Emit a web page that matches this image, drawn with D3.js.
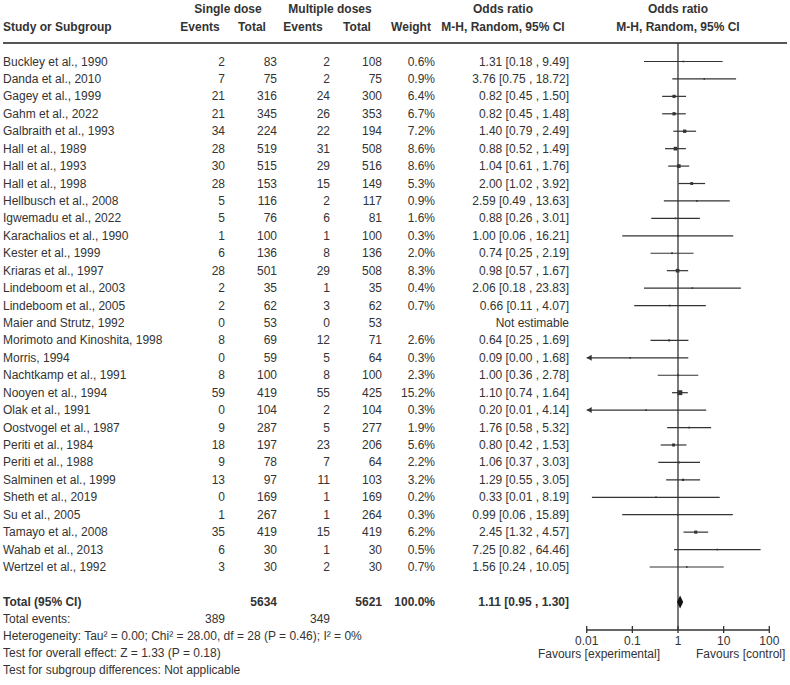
<!DOCTYPE html>
<html><head><meta charset="utf-8">
<script src="https://cdn.jsdelivr.net/npm/d3@7"></script>
<style>body{margin:0;background:#fff}svg{display:block}text{font-family:Arial,"Liberation Sans",sans-serif;font-size:12px;fill:#333}</style>
</head><body><div id="chart"></div>
<script>
const studies = ["Buckley et al., 1990","Danda et al., 2010","Gagey et al., 1999","Gahm et al., 2022","Galbraith et al., 1993","Hall et al., 1989","Hall et al., 1993","Hall et al., 1998","Hellbusch et al., 2008","Igwemadu et al., 2022","Karachalios et al., 1990","Kester et al., 1999","Kriaras et al., 1997","Lindeboom et al., 2003","Lindeboom et al., 2005","Maier and Strutz, 1992","Morimoto and Kinoshita, 1998","Morris, 1994","Nachtkamp et al., 1991","Nooyen et al., 1994","Olak et al., 1991","Oostvogel et al., 1987","Periti et al., 1984","Periti et al., 1988","Salminen et al., 1999","Sheth et al., 2019","Su et al., 2005","Tamayo et al., 2008","Wahab et al., 2013","Wertzel et al., 1992"];
const singleEvents = [2,7,21,21,34,28,30,28,5,5,1,6,28,2,2,0,8,0,8,59,0,9,18,9,13,0,1,35,6,3];
const singleTotal = [83,75,316,345,224,519,515,153,116,76,100,136,501,35,62,53,69,59,100,419,104,287,197,78,97,169,267,419,30,30];
const multiEvents = [2,2,24,26,22,31,29,15,2,6,1,8,29,1,3,0,12,5,8,55,2,5,23,7,11,1,1,15,1,2];
const multiTotal = [108,75,300,353,194,508,516,149,117,81,100,136,508,35,62,53,71,64,100,425,104,277,206,64,103,169,264,419,30,30];
const weights = [0.6,0.9,6.4,6.7,7.2,8.6,8.6,5.3,0.9,1.6,0.3,2.0,8.3,0.4,0.7,null,2.6,0.3,2.3,15.2,0.3,1.9,5.6,2.2,3.2,0.2,0.3,6.2,0.5,0.7];
const orVal = [1.31,3.76,0.82,0.82,1.40,0.88,1.04,2.00,2.59,0.88,1.00,0.74,0.98,2.06,0.66,null,0.64,0.09,1.00,1.10,0.20,1.76,0.80,1.06,1.29,0.33,0.99,2.45,7.25,1.56];
const ciLow = [0.18,0.75,0.45,0.45,0.79,0.52,0.61,1.02,0.49,0.26,0.06,0.25,0.57,0.18,0.11,null,0.25,0.004,0.36,0.74,0.0096,0.58,0.42,0.37,0.55,0.013,0.06,1.32,0.82,0.24];
const ciHigh = [9.49,18.72,1.50,1.48,2.49,1.49,1.76,3.92,13.63,3.01,16.21,2.19,1.67,23.83,4.07,null,1.69,1.68,2.78,1.64,4.14,5.32,1.53,3.03,3.05,8.19,15.89,4.57,64.46,10.05];
const totalRow = {singleTotal:5634, multiTotal:5621, weight:"100.0%", or:1.11, lo:0.95, hi:1.30, singleEvents:389, multiEvents:349};
const footLines = ["Heterogeneity: Tau² = 0.00; Chi² = 28.00, df = 28 (P = 0.46); I² = 0%","Test for overall effect: Z = 1.33 (P = 0.18)","Test for subgroup differences: Not applicable"];
const axisTicks = [0.01,0.1,1,10,100];
const axisTickLabels = ["0.01","0.1","1","10","100"];

const W=790,H=685;
const svg=d3.select("#chart").append("svg").attr("width",W).attr("height",H);
const x=d3.scaleLog().domain([0.01,100]).range([586.7,769.3]);
const y=d3.scaleLinear().domain([0,29]).range([61.5,567]);
const col="#333";
const bold=s=>s.style("font-weight","bold");

// headers
const hdr=svg.append("g");
bold(hdr.append("text").attr("x",228).attr("y",13).attr("text-anchor","middle").text("Single dose"));
bold(hdr.append("text").attr("x",330).attr("y",13).attr("text-anchor","middle").text("Multiple doses"));
bold(hdr.append("text").attr("x",503).attr("y",13).attr("text-anchor","middle").text("Odds ratio"));
bold(hdr.append("text").attr("x",678).attr("y",13).attr("text-anchor","middle").text("Odds ratio"));
bold(hdr.append("text").attr("x",3).attr("y",31).text("Study or Subgroup"));
bold(hdr.append("text").attr("x",200).attr("y",31).attr("text-anchor","middle").text("Events"));
bold(hdr.append("text").attr("x",252).attr("y",31).attr("text-anchor","middle").text("Total"));
bold(hdr.append("text").attr("x",303).attr("y",31).attr("text-anchor","middle").text("Events"));
bold(hdr.append("text").attr("x",357).attr("y",31).attr("text-anchor","middle").text("Total"));
bold(hdr.append("text").attr("x",411).attr("y",31).attr("text-anchor","middle").text("Weight"));
bold(hdr.append("text").attr("x",503).attr("y",31).attr("text-anchor","middle").text("M-H, Random, 95% CI"));
bold(hdr.append("text").attr("x",678).attr("y",31).attr("text-anchor","middle").text("M-H, Random, 95% CI"));
svg.append("line").attr("x1",3).attr("x2",787).attr("y1",43).attr("y2",43).attr("stroke","#555").attr("stroke-width",2);

const fmt=d3.format(".2f");
const rows=svg.append("g").selectAll("g").data(studies).join("g").attr("transform",(d,i)=>`translate(0,${y(i)+4})`);
rows.append("text").attr("x",3).text(d=>d);
rows.append("text").attr("x",225).attr("text-anchor","end").text((d,i)=>singleEvents[i]);
rows.append("text").attr("x",277).attr("text-anchor","end").text((d,i)=>singleTotal[i]);
rows.append("text").attr("x",330).attr("text-anchor","end").text((d,i)=>multiEvents[i]);
rows.append("text").attr("x",382).attr("text-anchor","end").text((d,i)=>multiTotal[i]);
rows.append("text").attr("x",435).attr("text-anchor","end").text((d,i)=>weights[i]==null?"":weights[i].toFixed(1)+"%");
rows.append("text").attr("x",569).attr("text-anchor","end").text((d,i)=>orVal[i]==null?"Not estimable":`${fmt(orVal[i])} [${fmt(ciLow[i])} , ${fmt(ciHigh[i])}]`);

// forest marks
const plot=svg.append("g");
plot.append("line").attr("x1",x(1)).attr("x2",x(1)).attr("y1",43).attr("y2",630).attr("stroke",col).attr("stroke-width",1.3);
studies.forEach((s,i)=>{
  if(orVal[i]==null) return;
  const yy=y(i);
  const lo=Math.max(ciLow[i],0.01);
  plot.append("line").attr("x1",x(lo)).attr("x2",x(Math.min(ciHigh[i],100))).attr("y1",yy).attr("y2",yy).attr("stroke",col).attr("stroke-width",1.2);
  if(ciLow[i]<0.01){
    plot.append("path").attr("d",`M${x(0.01)},${yy} l5,-3 l0,6 z`).attr("fill",col);
  }
  const sz=Math.max(1.6,Math.sqrt(weights[i])*1.25);
  plot.append("rect").attr("x",x(orVal[i])-sz/2).attr("y",yy-sz/2).attr("width",sz).attr("height",sz).attr("fill",col);
});

// total row
const ty=602;
const tg=svg.append("g").attr("transform",`translate(0,${ty+4})`);
bold(tg.append("text").attr("x",3).text("Total (95% CI)"));
bold(tg.append("text").attr("x",277).attr("text-anchor","end").text(totalRow.singleTotal));
bold(tg.append("text").attr("x",382).attr("text-anchor","end").text(totalRow.multiTotal));
bold(tg.append("text").attr("x",435).attr("text-anchor","end").text(totalRow.weight));
bold(tg.append("text").attr("x",569).attr("text-anchor","end").text(`${fmt(totalRow.or)} [${fmt(totalRow.lo)} , ${fmt(totalRow.hi)}]`));
plot.append("path").attr("d",`M${x(totalRow.lo)},${ty} L${x(totalRow.or)},${ty-6.5} L${x(totalRow.hi)},${ty} L${x(totalRow.or)},${ty+6.5} Z`).attr("fill","#111");

const eg=svg.append("g").attr("transform",`translate(0,${619+4})`);
eg.append("text").attr("x",3).text("Total events:");
eg.append("text").attr("x",225).attr("text-anchor","end").text(totalRow.singleEvents);
eg.append("text").attr("x",330).attr("text-anchor","end").text(totalRow.multiEvents);
footLines.forEach((t,k)=>svg.append("text").attr("x",3).attr("y",636+k*17+4).text(t));

// axis
const ax=svg.append("g").attr("transform","translate(0,630)");
ax.append("line").attr("x1",x(0.01)).attr("x2",x(100)).attr("stroke",col).attr("stroke-width",1.3);
ax.selectAll(".tk").data(axisTicks).join("line").attr("x1",d=>x(d)).attr("x2",d=>x(d)).attr("y1",-4).attr("y2",3).attr("stroke",col).attr("stroke-width",1.3);
ax.selectAll(".tl").data(axisTicks).join("text").attr("x",d=>x(d)).attr("y",15).attr("text-anchor","middle").text((d,i)=>axisTickLabels[i]);
svg.append("text").attr("x",660).attr("y",658).attr("text-anchor","end").text("Favours [experimental]");
svg.append("text").attr("x",696).attr("y",658).text("Favours [control]");
</script></body></html>
